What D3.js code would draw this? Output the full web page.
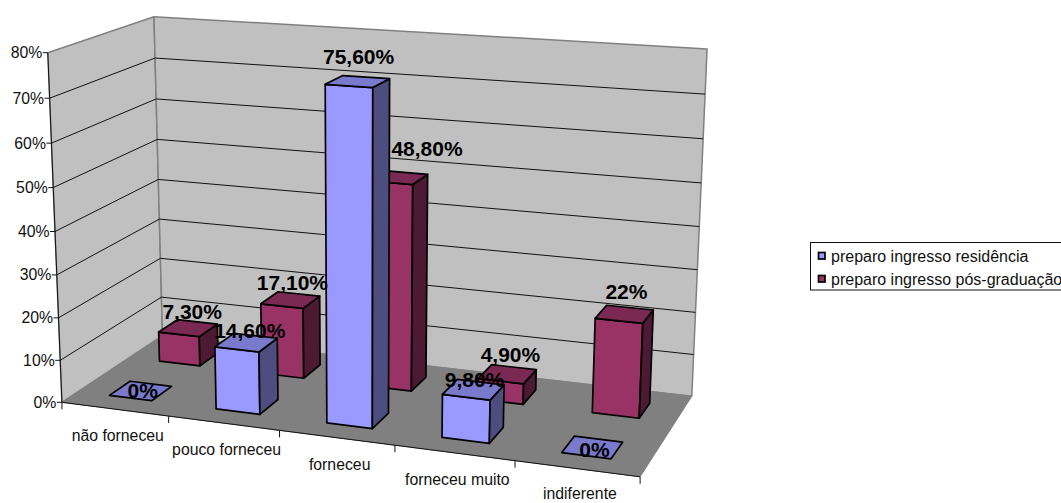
<!DOCTYPE html>
<html>
<head>
<meta charset="utf-8">
<script src="https://cdn.jsdelivr.net/npm/d3@7"></script>
<style>
  html, body { margin: 0; padding: 0; background: #fff; overflow: hidden; }
  svg { display: block; }
  text { font-family: "Liberation Sans", Arial, sans-serif; fill: #111; }
</style>
</head>
<body>
<div id="chart"></div>
<script>
const categories = ["não forneceu", "pouco forneceu", "forneceu", "forneceu muito", "indiferente"];
const seriesNames = ["preparo ingresso residência", "preparo ingresso pós-graduação"];
const residencia = [0, 14.6, 75.6, 9.8, 0];
const posGraduacao = [7.3, 17.1, 48.8, 4.9, 22];
const residenciaLabels = ["0%", "14,60%", "75,60%", "9,80%", "0%"];
const posGraduacaoLabels = ["7,30%", "17,10%", "48,80%", "4,90%", "22%"];
const valueTicks = [0, 10, 20, 30, 40, 50, 60, 70, 80];

const W = 1061, H = 503;
const svg = d3.select("#chart").append("svg").attr("width", W).attr("height", H);

// Scales work in normalised box coordinates: u along the categories,
// d from front to back, v from floor to ceiling.
const uScale = d3.scaleBand().domain(d3.range(categories.length)).range([0, 1]).paddingInner(0.6).paddingOuter(0.3);
const dScale = d3.scaleBand().domain([0, 1]).range([0, 1]).paddingInner(0.6).paddingOuter(0.3);
const vScale = d3.scaleLinear().domain([0, 80]).range([0, 1]);

// Camera: projective map fitted by least squares to known points of the plot box.
const anchors = [
  [0, 0, 0, 62, 402], [1, 0, 0, 640, 477], [0, 1, 0, 162, 336], [1, 1, 0, 692, 396],
  [0, 0, 1, 48, 52], [0, 1, 1, 154, 16], [1, 1, 1, 707, 49],
  [0, 0, 0.875, 49.5, 98.5], [0, 0, 0.625, 53, 188], [0, 0, 0.375, 57, 275],
  [0, 1, 0.875, 155, 59], [0, 1, 0.625, 157, 140], [0, 1, 0.375, 160, 218]
];
function solveCamera(points) {
  const rows = [], rhs = [];
  points.forEach(([u, d, v, x, y]) => {
    rows.push([u, d, v, 1, 0, 0, 0, 0, -x * u, -x * d, -x * v]); rhs.push(x);
    rows.push([0, 0, 0, 0, u, d, v, 1, -y * u, -y * d, -y * v]); rhs.push(y);
  });
  const n = 11;
  const A = d3.range(n).map(i => d3.range(n + 1).map(j =>
    j < n ? d3.sum(rows, r => r[i] * r[j]) : d3.sum(rows, (r, k) => r[i] * rhs[k])));
  for (let c = 0; c < n; c++) {
    let p = c;
    for (let r = c + 1; r < n; r++) if (Math.abs(A[r][c]) > Math.abs(A[p][c])) p = r;
    [A[c], A[p]] = [A[p], A[c]];
    for (let r = 0; r < n; r++) {
      if (r === c) continue;
      const f = A[r][c] / A[c][c];
      for (let k = c; k <= n; k++) A[r][k] -= f * A[c][k];
    }
  }
  return A.map((r, i) => r[n] / r[i]);
}
const m = solveCamera(anchors);
const project = (u, d, v) => {
  const w = m[8] * u + m[9] * d + m[10] * v + 1;
  return [(m[0] * u + m[1] * d + m[2] * v + m[3]) / w, (m[4] * u + m[5] * d + m[6] * v + m[7]) / w];
};
const pathOf = d3.line();
const face = (g, pts, fill, stroke, sw) => g.append("path")
  .attr("d", pathOf(pts) + "Z").attr("fill", fill).attr("stroke", stroke).attr("stroke-width", sw)
  .attr("stroke-linejoin", "round");

// Walls and floor
const box = svg.append("g");
face(box, [project(0,0,0), project(0,1,0), project(0,1,1), project(0,0,1)], "#c0c0c0", "#808080", 1.5);
face(box, [project(0,1,0), project(1,1,0), project(1,1,1), project(0,1,1)], "#c0c0c0", "#808080", 1.5);
face(box, [project(0,0,0), project(1,0,0), project(1,1,0), project(0,1,0)], "#808080", "#808080", 1);

// Gridlines run along the left wall and the back wall
const grid = svg.append("g");
valueTicks.filter(t => t > 0 && t < 80).forEach(t => {
  const v = vScale(t);
  grid.append("path").attr("d", pathOf([project(0,0,v), project(0,1,v), project(1,1,v)]))
    .attr("fill", "none").attr("stroke", "#111").attr("stroke-width", 1);
});

// Value axis
const axes = svg.append("g");
axes.append("path").attr("d", pathOf([project(0,0,0), project(0,0,1)])).attr("stroke", "#111").attr("stroke-width", 1).attr("fill", "none");
valueTicks.forEach(t => {
  const [x, y] = project(0, 0, vScale(t));
  axes.append("line").attr("x1", x - 5).attr("x2", x).attr("y1", y).attr("y2", y).attr("stroke", "#111");
  axes.append("text").attr("x", x - 5.5).attr("y", y).attr("dy", "0.35em").attr("text-anchor", "end")
    .attr("font-size", 15.8).text(t + "%");
});

// Category axis: ticks between categories, labels below the front edge
axes.append("path").attr("d", pathOf([project(0,0,0), project(1,0,0)])).attr("stroke", "#111").attr("stroke-width", 1).attr("fill", "none");
d3.range(categories.length + 1).forEach(i => {
  const [x, y] = project(i / categories.length, 0, 0);
  axes.append("line").attr("x1", x).attr("x2", x).attr("y1", y).attr("y2", y + 7).attr("stroke", "#111");
});
categories.forEach((c, i) => {
  const [x, y] = project((i + 0.5) / categories.length, 0, 0);
  axes.append("text").attr("x", x + 3).attr("y", Math.min(y + 32, H - 4)).attr("text-anchor", "middle").attr("font-size", 15.8).text(c);
});

// Bars, back series first so the front series paints over it
const palettes = [
  { front: "#9999ff", top: "#7a7acc", side: "#4d4d80" },
  { front: "#993366", top: "#7a2952", side: "#4d1a33" }
];
const seriesData = [residencia, posGraduacao];
const bars = svg.append("g");
[1, 0].forEach(s => {
  const pal = palettes[s];
  const d0 = dScale(s), d1 = d0 + dScale.bandwidth();
  seriesData[s].forEach((val, i) => {
    const u0 = uScale(i), u1 = u0 + uScale.bandwidth(), v = vScale(val);
    const g = bars.append("g");
    if (val > 0) {
      face(g, [project(u0,d0,0), project(u1,d0,0), project(u1,d0,v), project(u0,d0,v)], pal.front, "#000", 1.7);
      face(g, [project(u1,d0,0), project(u1,d1,0), project(u1,d1,v), project(u1,d0,v)], pal.side, "#000", 1.7);
    }
    face(g, [project(u0,d0,v), project(u1,d0,v), project(u1,d1,v), project(u0,d1,v)], pal.top, "#000", 1.7);
  });
});

// Value labels sit above each bar and are nudged clear of neighbouring marks;
// empty bars carry theirs on the flat face
const labelSets = [residenciaLabels, posGraduacaoLabels];
const labelNudges = [
  [[2, 0], [3.5, 13], [1, 1], [1, 15], [2, 3]],
  [[4, 9], [2, 8], [29, -4], [3, 6], [2, 3]]
];
const labels = svg.append("g");
[1, 0].forEach(s => {
  const dm = dScale(s) + dScale.bandwidth() / 2;
  labelSets[s].forEach((txt, i) => {
    const um = uScale(i) + uScale.bandwidth() / 2, val = seriesData[s][i];
    const [x, y] = project(um, dm, vScale(val));
    const [nx, ny] = labelNudges[s][i];
    labels.append("text")
      .attr("x", x + nx)
      .attr("y", y + ny + (val > 0 ? -18 : 7))
      .attr("text-anchor", "middle").attr("font-size", 21).attr("font-weight", "bold")
      .style("fill", "#000").text(txt);
  });
});

// Legend
const legend = svg.append("g");
legend.append("rect").attr("x", 810.5).attr("y", 242.5).attr("width", 300).attr("height", 47.5)
  .attr("fill", "#fff").attr("stroke", "#111");
seriesNames.forEach((name, i) => {
  const y = 252 + i * 23;
  legend.append("rect").attr("x", 818.5).attr("y", y + 0.5).attr("width", 6.5).attr("height", 6.5)
    .attr("fill", palettes[i].front).attr("stroke", "#000").attr("stroke-width", 1.7);
  legend.append("text").attr("x", 831).attr("y", y + 10).attr("font-size", 16).text(name);
});
</script>
</body>
</html>
